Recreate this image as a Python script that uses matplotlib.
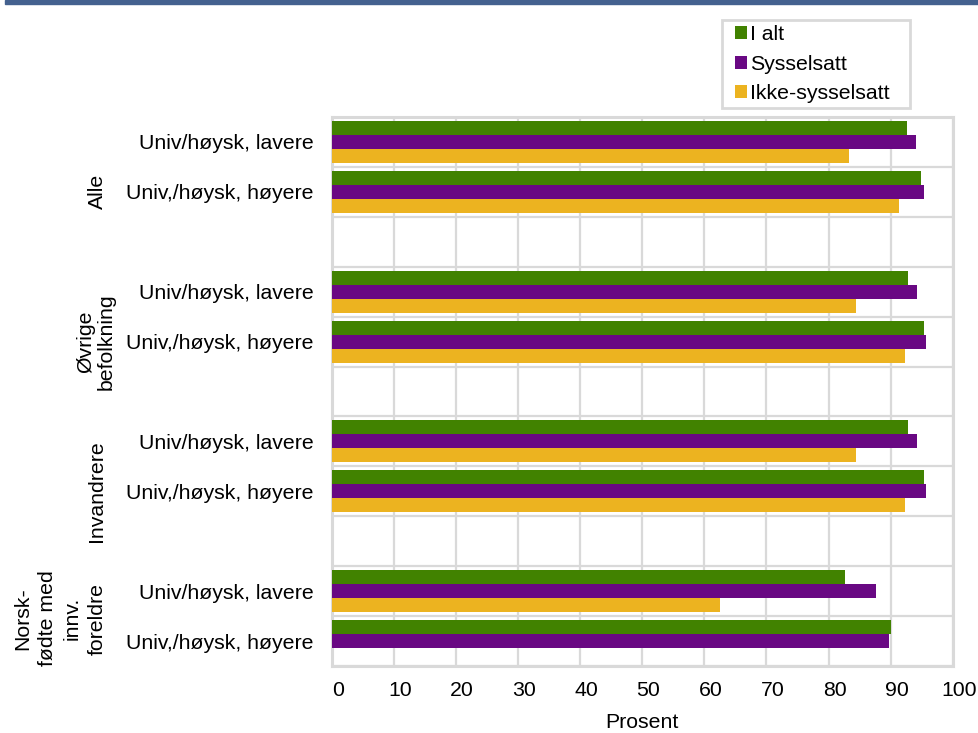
import numpy as np
import matplotlib
matplotlib.use("Agg")
import matplotlib.pyplot as plt
import matplotlib.transforms as mtransforms
from matplotlib.patches import Rectangle

plt.rcParams['font.family'] = ['Liberation Sans', 'DejaVu Sans']

# data
groups = ["Alle", "Øvrige\nbefolkning", "Invandrere", "Norsk-\nfødte med\ninnv.\nforeldre"]
levels = ["Univ/høysk, lavere", "Univ,/høysk, høyere"]
series = ["I alt", "Sysselsatt", "Ikke-sysselsatt"]
i_alt = [92.6, 94.9, 92.8, 95.3, 92.8, 95.3, 82.6, 90.1]
sysselsatt = [94.1, 95.3, 94.2, 95.7, 94.2, 95.7, 87.6, 89.8]
ikke_sysselsatt = [83.3, 91.4, 84.4, 92.3, 84.4, 92.3, 62.5, np.nan]
xticks = [0, 10, 20, 30, 40, 50, 60, 70, 80, 90, 100]

colors = ["#418200", "#690883", "#ecb320"]
grid_col = "#d9d9d9"
fs = 15.3

W, H = 979, 733
fig = plt.figure(figsize=(W / 100, H / 100), dpi=100)
ax = fig.add_axes([331.7 / W, 1 - 666 / H, (952.7 - 331.7) / W, (666 - 117) / H])

# slot positions: 2 categories per group, an empty slot between groups
pos = []
for g in range(len(groups)):
    for k in range(len(levels)):
        pos.append(g * 3 + k)
pos = np.array(pos)

h = 0.28
handles = []
for i, (vals, name) in enumerate(zip([i_alt, sysselsatt, ikke_sysselsatt], series)):
    b = ax.barh(pos + (i - 1) * h, vals, height=h, color=colors[i], label=name, zorder=3)
    handles.append(b)

ax.set_xlim(0, 100)
ax.set_ylim(10.5, -0.5)
ax.set_xticks(xticks)
ax.set_xticklabels([str(t) for t in xticks], fontsize=fs)
ax.set_yticks(pos)
ax.set_yticklabels(levels * len(groups), fontsize=fs)
ax.set_yticks(np.arange(-0.5, 11, 1), minor=True)
ax.tick_params(axis='both', which='both', length=0)
ax.tick_params(axis='x', pad=11)
ax.tick_params(axis='y', pad=13)
ax.grid(axis='x', which='major', color=grid_col, lw=1.6, zorder=0)
ax.grid(axis='y', which='minor', color=grid_col, lw=1.6, zorder=0)
for s in ax.spines.values():
    s.set_color(grid_col)
    s.set_linewidth(2.2)

# x tick labels sit a bit to the right of the gridlines
off = mtransforms.ScaledTranslation(6 / 100, 0, fig.dpi_scale_trans)
for lbl in ax.get_xticklabels():
    lbl.set_transform(lbl.get_transform() + off)

ax.set_xlabel("Prosent", fontsize=fs, labelpad=9)

# group labels
ytr = ax.get_yaxis_transform()
gx = [97, 96, 97, 60]
lsp = [1.0, 1.1, 1.0, 1.38]
for g, name in enumerate(groups):
    if g < len(groups) - 1:
        yc = g * 3 + 1.0
    else:
        yc = g * 3 + 0.55
    x_ax = (gx[g] - 331.7) / (952.7 - 331.7)
    ax.text(x_ax, yc, name, transform=ytr, rotation=90, ha='center', va='center',
            fontsize=fs, linespacing=lsp[g], multialignment='center')

# legend, frame drawn separately
fig.patches.append(Rectangle((722 / W, 1 - 108 / H), 188 / W, 88 / H, transform=fig.transFigure,
                             facecolor='white', edgecolor=grid_col, lw=2, zorder=4))
leg = fig.legend(handles, series, loc='upper left', bbox_to_anchor=(735 / W, 1 - 25 / H),
                 bbox_transform=fig.transFigure, fontsize=fs, frameon=False,
                 handlelength=0.55, handleheight=0.55, handletextpad=0.15,
                 borderpad=0, labelspacing=0.5, borderaxespad=0)
leg.set_zorder(6)

# blue rule at top
fig.patches.append(Rectangle((5 / W, 1 - 4 / H), 1, 4 / H, transform=fig.transFigure,
                             color="#44618f", zorder=5))

fig.savefig("out.png", dpi=100)
